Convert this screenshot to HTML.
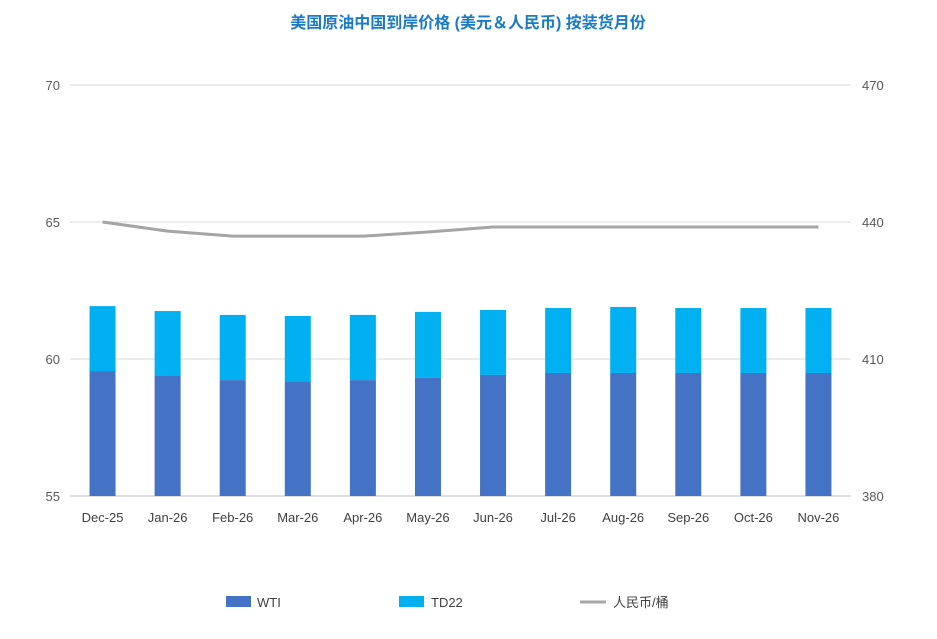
<!DOCTYPE html>
<html><head><meta charset="utf-8">
<style>
body{margin:0;background:#fff;}
svg text{font-family:"Liberation Sans","Noto Sans CJK SC",sans-serif;}
</style></head>
<body>
<svg id="chart" width="937" height="634" xmlns="http://www.w3.org/2000/svg">
<rect width="937" height="634" fill="#fff"/>
<text x="468" y="28" text-anchor="middle" font-size="16" font-weight="bold" fill="#1a7bc4">美国原油中国到岸价格 (美元＆人民币) 按装货月份</text>
<g id="grid"></g>
<g id="bars"></g>
<g id="line"></g>
<g id="axes"></g>
<g>
<rect x="226" y="596" width="25" height="11" fill="#4472c4"/>
<text x="257" y="607" font-size="13" fill="#404040">WTI</text>
<rect x="399" y="596" width="25" height="11" fill="#00b0f0"/>
<text x="431" y="607" font-size="13" fill="#404040">TD22</text>
<line x1="580" y1="602" x2="606" y2="602" stroke="#a5a5a5" stroke-width="3"/>
<text x="613" y="607" font-size="13" fill="#404040">人民币/桶</text>
</g>
</svg>
<script>
const categories=["Dec-25","Jan-26","Feb-26","Mar-26","Apr-26","May-26","Jun-26","Jul-26","Aug-26","Sep-26","Oct-26","Nov-26"];
const wti=[59.56,59.38,59.23,59.16,59.23,59.31,59.42,59.49,59.49,59.49,59.49,59.49];
const td22=[2.37,2.37,2.38,2.41,2.38,2.41,2.37,2.37,2.41,2.37,2.37,2.37];
const rmb=[440.0,438.0,436.9,436.9,436.9,437.8,438.9,438.9,438.9,438.9,438.9,438.9];
const leftTicks=[55,60,65,70];
const rightTicks=[380,410,440,470];
const NS="http://www.w3.org/2000/svg";
const x0=70,x1=851,yb=496,yt=85;
const yL=v=>yb-(v-55)/(70-55)*(yb-yt);
const yR=v=>yb-(v-380)/(470-380)*(yb-yt);
const step=(x1-x0)/categories.length;
const xc=i=>x0+step*(i+0.5);
function mk(tag,attrs,parent,txt){const e=document.createElementNS(NS,tag);for(const k in attrs)e.setAttribute(k,attrs[k]);if(txt!==undefined)e.textContent=txt;document.getElementById(parent).appendChild(e);return e;}
leftTicks.forEach((t,i)=>{
 const g=mk("line",{x1:x0,x2:x1,y1:yL(t),y2:yL(t),stroke:t===55?"#bfbfbf":"#d9d9d9","stroke-width":1},"grid");
 
 
 const l=mk("text",{x:60,y:yL(t)+5,"text-anchor":"end","font-size":13,fill:"#595959"},"axes",t);
 
 
});
rightTicks.forEach(t=>{
 const l=mk("text",{x:862,y:yR(t)+5,"font-size":13,fill:"#595959"},"axes",t);
 
 
});
const bw=26;
categories.forEach((c,i)=>{
 const a=mk("rect",{x:xc(i)-bw/2,y:yL(wti[i]),width:bw,height:yb-yL(wti[i]),fill:"#4472c4"},"bars");
 
 
 const b=mk("rect",{x:xc(i)-bw/2,y:yL(wti[i]+td22[i]),width:bw,height:yL(wti[i])-yL(wti[i]+td22[i]),fill:"#00b0f0"},"bars");
 
 
 const l=mk("text",{x:xc(i),y:522,"text-anchor":"middle","font-size":13,fill:"#404040"},"axes",c);
 
 
});
const p=mk("polyline",{points:rmb.map((v,i)=>xc(i)+","+yR(v)).join(" "),fill:"none",stroke:"#a5a5a5","stroke-width":3},"line");


</script>
</body></html>
